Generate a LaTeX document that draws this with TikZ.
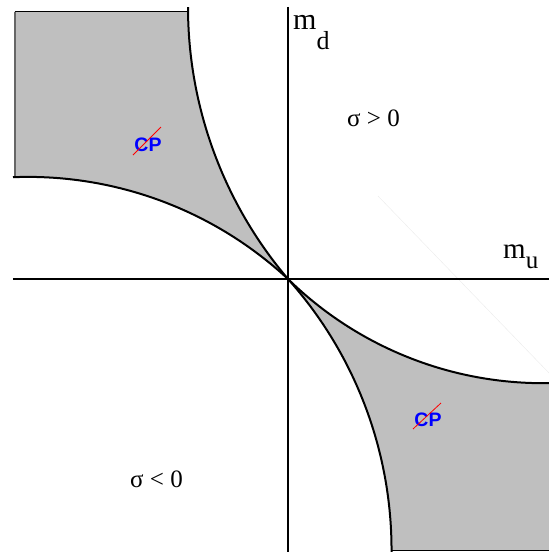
\documentclass[tikz,border=0pt]{standalone}
\usepackage{fontspec}
\setmainfont{Liberation Serif}
\newfontfamily\cpfont{Liberation Sans}
\definecolor{regiongray}{RGB}{191,191,191}
\begin{document}
\begin{tikzpicture}[x=1pt,y=1pt,
  curve/.style={line width=2pt, black},
  axisline/.style={line width=2pt, black},
  cplabel/.style={font=\cpfont\bfseries\fontsize{19.5}{19.5}\selectfont, text=blue, inner sep=0pt},
  slash/.style={red, line width=0.8pt},
  sigmalabel/.style={font=\fontsize{25}{25}\selectfont, inner sep=0pt, anchor=base west},
]
\useasboundingbox (-288,-273) rectangle (261,279);
% upper-left region
\fill[regiongray] (0,0) arc[start angle=220.36, end angle=180.64, radius=420] -- (-273.3,267.3) -- (-273.3,101.87) arc[start angle=91.99, end angle=47.12, radius=382.1] -- cycle;
\coordinate (ultr) at (-100,267.3);
\coordinate (ultl) at (-273.3,267.3);
\coordinate (ulbl) at (-273.3,101.87);
\draw[line width=1.3pt] (ultl) -- (ultr);
\draw[line width=2pt, black!60] (ultl) -- (ulbl);
% lower-right region
\fill[regiongray] (0,0) arc[start angle=225.56, end angle=270.94, radius=364.18] -- (261,-271.7) -- (103.5,-271.7) arc[start angle=-0.1, end angle=41.81, radius=406.51] -- cycle;
\coordinate (lrbl) at (103.5,-271.7);
\coordinate (lrbr) at (261,-271.7);
\draw[line width=1.5pt] (lrbl) -- (lrbr);
% faint line
\coordinate (fa) at (90,83);
\coordinate (fb) at (261,-94);
\draw[black!8, line width=0.4pt] (fa) -- (fb);
% curves
\coordinate (O) at (0,0);
\draw[curve] (O) arc[start angle=220.36, end angle=180, radius=420];
\draw[curve] (O) arc[start angle=47.12, end angle=92.25, radius=382.1];
\draw[curve] (O) arc[start angle=225.56, end angle=271, radius=364.18];
\draw[curve] (O) arc[start angle=41.81, end angle=-1, radius=406.51];
% axes
\coordinate (vtop) at (0,272);
\coordinate (vbot) at (0,-273);
\coordinate (hl) at (-275,0);
\coordinate (hr) at (261,0);
\draw[axisline] (vtop) -- (vbot);
\draw[axisline] (hl) -- (hr);
% labels
\node[anchor=base west, inner sep=0pt, font=\fontsize{30}{30}\selectfont] (md) at (5,249.5) {m\raisebox{-20pt}{\fontsize{26}{26}\selectfont d}};
\node[anchor=base west, inner sep=0pt, font=\fontsize{29}{29}\selectfont] (mu) at (215,21) {m\raisebox{-10pt}{\fontsize{25}{25}\selectfont u}};
\node[sigmalabel] (sp) at (59,152) {σ > 0};
\node[sigmalabel] (sn) at (-158,-208) {σ < 0};
\node[cplabel] (cp1) at (-140,134) {CP};
\draw[slash] ([shift={(-15,-10)}]cp1.center) -- ([shift={(13,18)}]cp1.center);
\node[cplabel] (cp2) at (140,-141) {CP};
\draw[slash] ([shift={(-15,-9)}]cp2.center) -- ([shift={(13,17)}]cp2.center);
\end{tikzpicture}
\end{document}
